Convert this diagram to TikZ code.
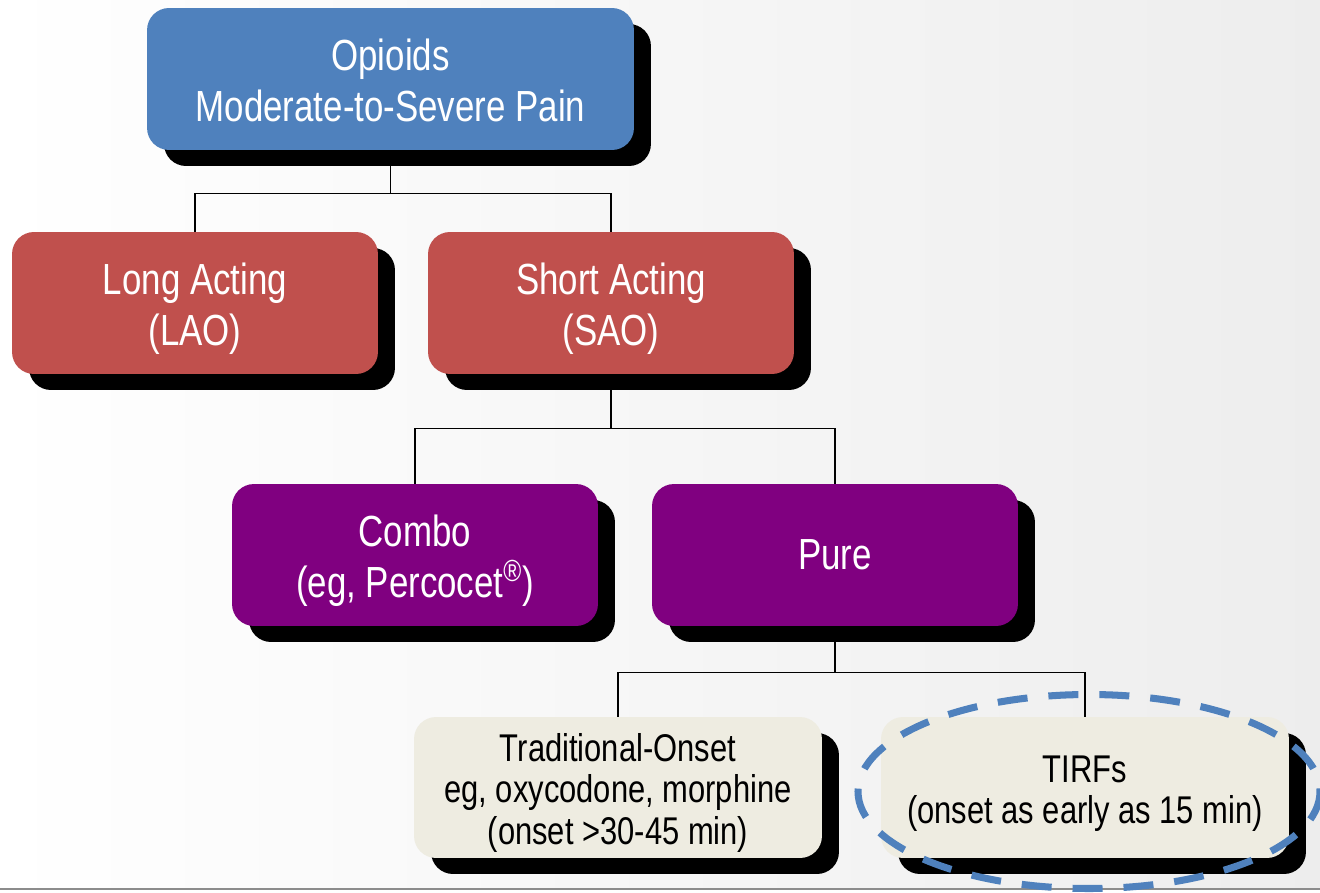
\documentclass[tikz,border=0pt]{standalone}
\usepackage{fontspec}
\setmainfont{Liberation Sans}[FakeStretch=0.8]
\usetikzlibrary{positioning}
\usetikzlibrary{shadows}
\definecolor{opblue}{HTML}{4F81BD}
\definecolor{opred}{HTML}{C0504D}
\definecolor{oppurple}{HTML}{800080}
\definecolor{opbeige}{HTML}{EEECE1}
\newcommand\topgap[1][1em]{\rule{0pt}{#1}}

\begin{document}
\begin{tikzpicture}[x=0.02cm,y=-0.02cm,
			box/.style={rounded corners=0.44cm, align=center, inner sep=0pt,
				minimum width=7.32cm, minimum height=2.84cm, text=white,
				font=\fontsize{24.8}{29}\selectfont,
				drop shadow={shadow xshift=0.34cm, shadow yshift=-0.32cm, fill=black, opacity=1}},
			topbox/.style={box, fill=opblue, minimum width=9.74cm},
			actbox/.style={box, fill=opred},
			kindbox/.style={box, fill=oppurple},
			onsetbox/.style={box, fill=opbeige, text=black, minimum width=8.16cm,
				minimum height=2.82cm, font=\fontsize{22}{23.5}\selectfont},
			conn/.style={draw=black, line width=0.8pt}]
		\useasboundingbox (0,0) rectangle (1320,893);
		\clip (0,0) rectangle (1320,893);
		\shade[left color=white, right color=black!7] (0,0) rectangle (1320,889);
		\draw[black!45, line width=1pt] (0,889) -- (1320,889);

		\node[topbox] (opioids) at (390.5,79) {\topgap[0.8em]Opioids\\Moderate-to-Severe Pain};
		\node[actbox] (lao) at (195,303) {\topgap Long Acting\\(LAO)};
		\node[actbox] (sao) at (611,303) {\topgap Short Acting\\(SAO)};
		\node[kindbox] (combo) at (415,555) {\topgap Combo\\(eg, Percocet\textsuperscript{®})};
		\node[kindbox] (pure) at (835,555) {Pure};
		\node[onsetbox] (trad) at (618,787.5) {\topgap Traditional-Onset\\eg, oxycodone, morphine\\(onset >30-45 min)};
		\node[onsetbox] (tirf) at (1085,787.5) {\topgap TIRFs\\(onset as early as 15 min)};

		% tree connectors
		\draw[conn] (opioids.south) -- ++(0,43) -| (lao.north);
		\draw[conn] (opioids.south) -- ++(0,43) -| (sao.north);
		\draw[conn] (sao.south) -- ++(0,54) -| (combo.north);
		\draw[conn] (sao.south) -- ++(0,54) -| (pure.north);
		\draw[conn] (pure.south) -- ++(0,46) -| (trad.north);
		\draw[conn] (pure.south) -- ++(0,46) -| (tirf.north);

		% highlight round the fast-onset group
		\draw[opblue, line width=4pt, dash pattern=on 0.6cm off 0.42cm]
			([shift={(4,4)}]tirf.center) ellipse [x radius=231, y radius=97];
\end{tikzpicture}
\end{document}
